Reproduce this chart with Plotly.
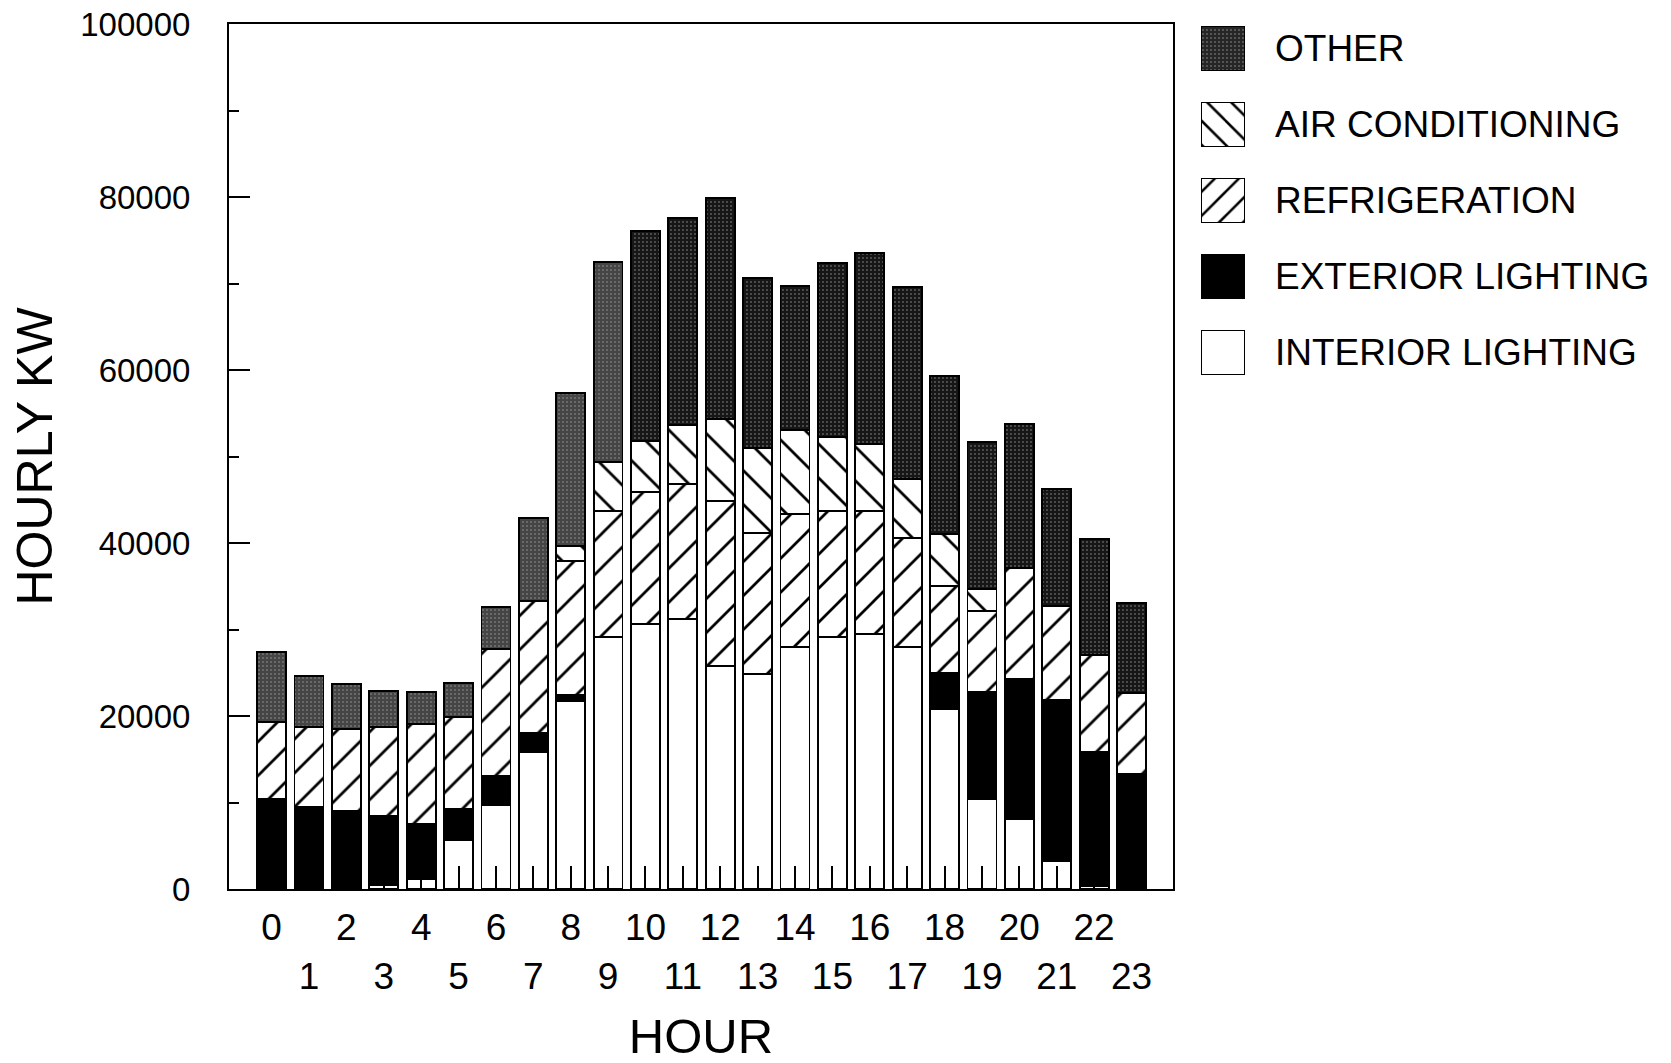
import plotly.graph_objects as go

# Hourly electric demand by end use (kW)
hours = list(range(24))
interior_lighting = [0, 0, 200, 500, 1150, 5660, 9710, 15880, 21770, 29100, 30640, 31180,
                     25780, 24820, 27980, 29130, 29520, 28010, 20770, 10370, 8090, 3240, 300, 200]
exterior_lighting = [10400, 9440, 8820, 7980, 6400, 3590, 3350, 2120, 620, 0, 0, 0,
                     0, 0, 0, 0, 0, 0, 4240, 12440, 16220, 18610, 15570, 13060]
refrigeration = [8940, 9250, 9440, 10210, 11530, 10670, 14650, 15330, 15560, 14640, 15220, 15610,
                 19110, 16370, 15370, 14610, 14180, 12600, 10050, 9360, 12760, 10900, 11150, 9360]
air_conditioning = [0, 0, 0, 0, 0, 0, 0, 0, 1700, 5660, 5970, 6850,
                    9410, 9830, 9680, 8480, 7780, 6790, 5940, 2510, 0, 0, 0, 0]
other = [8090, 5970, 5240, 4240, 3660, 3900, 4930, 9520, 17660, 23050, 24270, 23970,
         25550, 19650, 16720, 20180, 22080, 22230, 18310, 17000, 16690, 13490, 13440, 10410]

series_names = ["OTHER", "AIR CONDITIONING", "REFRIGERATION", "EXTERIOR LIGHTING", "INTERIOR LIGHTING"]

y_ticks = [0, 20000, 40000, 60000, 80000, 100000]
x_ticktext = [str(h) if h % 2 == 0 else "<br>" + str(h) for h in hours]

FONT = "Liberation Sans, Arial, Helvetica, sans-serif"
OUTLINE = dict(color="black", width=1.8)


def hatch(shape, size, solidity):
    return dict(shape=shape, fgcolor="black", bgcolor="white", fgopacity=1,
                size=size, solidity=solidity)


# fill styles per end use
other_bg = ["#454545"] * 10 + ["#161616"] * 14
styles = {
    "INTERIOR LIGHTING": dict(color="white"),
    "EXTERIOR LIGHTING": dict(color="black"),
    "REFRIGERATION": dict(color="white", pattern=hatch("/", 24, 0.115)),
    "AIR CONDITIONING": dict(color="white", pattern=hatch("\\", 24, 0.115)),
    "OTHER": dict(color="#2a2a2a",
                  pattern=dict(shape=".", fgcolor="#a8a8a8", bgcolor=other_bg, size=4, solidity=0.18)),
}
legend_styles = {
    "INTERIOR LIGHTING": dict(color="white"),
    "EXTERIOR LIGHTING": dict(color="black"),
    "REFRIGERATION": dict(color="white", pattern=hatch("/", 17, 0.15)),
    "AIR CONDITIONING": dict(color="white", pattern=hatch("\\", 17, 0.15)),
    "OTHER": dict(color="#2a2a2a",
                  pattern=dict(shape=".", fgcolor="#a8a8a8", bgcolor="#262626", size=4, solidity=0.18)),
}

stack = [
    ("INTERIOR LIGHTING", interior_lighting),
    ("EXTERIOR LIGHTING", exterior_lighting),
    ("REFRIGERATION", refrigeration),
    ("AIR CONDITIONING", air_conditioning),
    ("OTHER", other),
]

fig = go.Figure()
for name, vals in stack:
    fig.add_trace(go.Bar(
        x=hours, y=vals, name=name, showlegend=False,
        marker=dict(line=OUTLINE, **styles[name]),
        xaxis="x", yaxis="y",
    ))

# legend swatches drawn as unit bars on a small side axis
for i, name in enumerate(series_names):
    fig.add_trace(go.Bar(
        x=[1], y=[i], orientation="h", showlegend=False, width=0.58,
        marker=dict(line=OUTLINE, **legend_styles[name]),
        xaxis="x2", yaxis="y2", hoverinfo="skip",
    ))
    fig.add_annotation(
        x=0.7342, xref="paper", y=i, yref="y2", text=name, showarrow=False,
        xanchor="left", yanchor="middle", font=dict(family=FONT, size=37, color="black"),
    )

main_w = 944 / 1422
fig.update_layout(
    width=1671, height=1063,
    margin=dict(l=229, r=20, t=24, b=174, autoexpand=False),
    paper_bgcolor="white", plot_bgcolor="white",
    barmode="stack", bargap=0.225,
    font=dict(family=FONT, color="black"),
    xaxis=dict(
        domain=[0, main_w], range=[-1.14, 24.11],
        tickmode="array", tickvals=hours, ticktext=x_ticktext, tickangle=0,
        ticks="inside", ticklen=23, tickwidth=1.5, tickcolor="black",
        tickfont=dict(family=FONT, size=37), ticklabelstandoff=5,
        showline=True, linecolor="black", linewidth=2, mirror=True,
        showgrid=False, zeroline=False,
        title=dict(text="HOUR", font=dict(family=FONT, size=49), standoff=23),
    ),
    yaxis=dict(
        range=[0, 100000], tickmode="array", tickvals=y_ticks, tickformat="d",
        ticks="inside", ticklen=21, tickwidth=1.5, tickcolor="black",
        minor=dict(dtick=10000, ticks="inside", ticklen=10, tickwidth=1.5, tickcolor="black"),
        tickfont=dict(family=FONT, size=33), ticklabelstandoff=30,
        showline=True, linecolor="black", linewidth=2, mirror=True,
        showgrid=False, zeroline=False,
        title=dict(text="HOURLY KW", font=dict(family=FONT, size=50), standoff=12),
    ),
    xaxis2=dict(domain=[(1201 - 229) / 1422, (1245 - 229) / 1422], range=[0, 1], anchor="y2",
                visible=False, fixedrange=True),
    yaxis2=dict(domain=[(889 - 390.5) / 865, 1.0], range=[4.5, -0.322], anchor="x2",
                visible=False, fixedrange=True),
)

fig.write_html("out.html")
